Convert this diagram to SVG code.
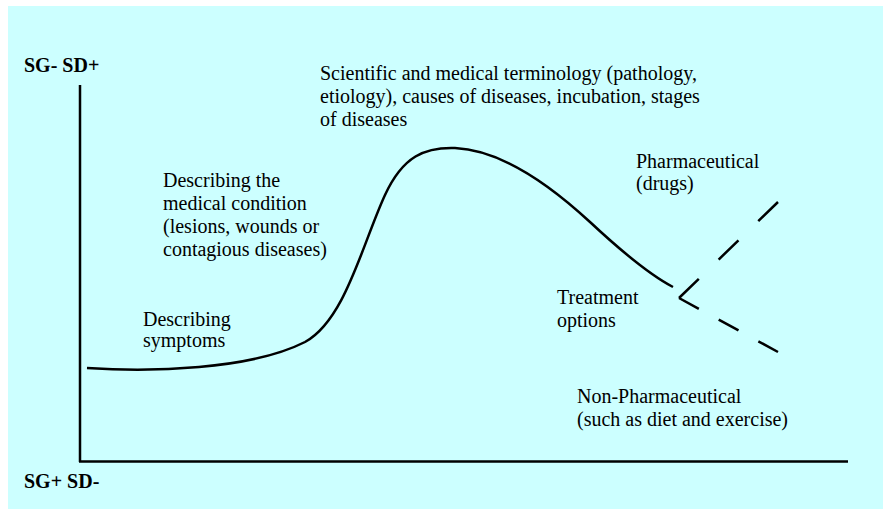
<svg xmlns="http://www.w3.org/2000/svg" width="883" height="509" viewBox="0 0 883 509">
<style>
.t{font-family:"Liberation Serif","Times New Roman","DejaVu Serif",serif;font-size:20px;fill:#000}
.b{font-weight:bold}
.ax{stroke:#000;stroke-width:2.5;fill:none}
.cv{stroke:#000;stroke-width:2.5;fill:none;stroke-linecap:butt}
</style>
<rect x="0" y="0" width="883" height="509" fill="#fff"/>
<rect x="8" y="6" width="875" height="503" fill="#ccffff"/>
<g id="axes">
<line class="ax" x1="80" y1="85" x2="80" y2="462"/>
<line class="ax" x1="79" y1="461.5" x2="848" y2="461.5"/>
<text class="t b" font-family="Liberation Serif, serif" x="24" y="72">SG- SD+</text>
<text class="t b" font-family="Liberation Serif, serif" x="24" y="488">SG+ SD-</text>
</g>
<g id="connectors">
<path class="cv" d="M87,368 C150,372 250,370 305,342 C345,320 362,245 385,195 C403,156 425,147 455,148 C500,150 550,185 590,222 C620,250 650,275 673,287"/>
<line class="cv" x1="679" y1="298" x2="778" y2="202" stroke-dasharray="27.6 27.6"/>
<line class="cv" x1="679" y1="298" x2="778" y2="352" stroke-dasharray="22.6 22.6"/>
</g>
<g id="node-terminology" class="t" font-family="Liberation Serif, serif">
<text x="320" y="80">Scientific and medical terminology (pathology,</text>
<text x="320" y="103">etiology), causes of diseases, incubation, stages</text>
<text x="320" y="126">of diseases</text>
</g>
<g id="node-condition" class="t" font-family="Liberation Serif, serif">
<text x="163" y="187">Describing the</text>
<text x="163" y="210">medical condition</text>
<text x="163" y="233">(lesions, wounds or</text>
<text x="163" y="256">contagious diseases)</text>
</g>
<g id="node-symptoms" class="t" font-family="Liberation Serif, serif">
<text x="143" y="326">Describing</text>
<text x="143" y="347">symptoms</text>
</g>
<g id="node-pharma" class="t" font-family="Liberation Serif, serif">
<text x="636" y="168">Pharmaceutical</text>
<text x="636" y="190">(drugs)</text>
</g>
<g id="node-treatment" class="t" font-family="Liberation Serif, serif">
<text x="557" y="304">Treatment</text>
<text x="557" y="327">options</text>
</g>
<g id="node-nonpharma" class="t" font-family="Liberation Serif, serif">
<text x="577" y="403">Non-Pharmaceutical</text>
<text x="577" y="426">(such as diet and exercise)</text>
</g>
</svg>
